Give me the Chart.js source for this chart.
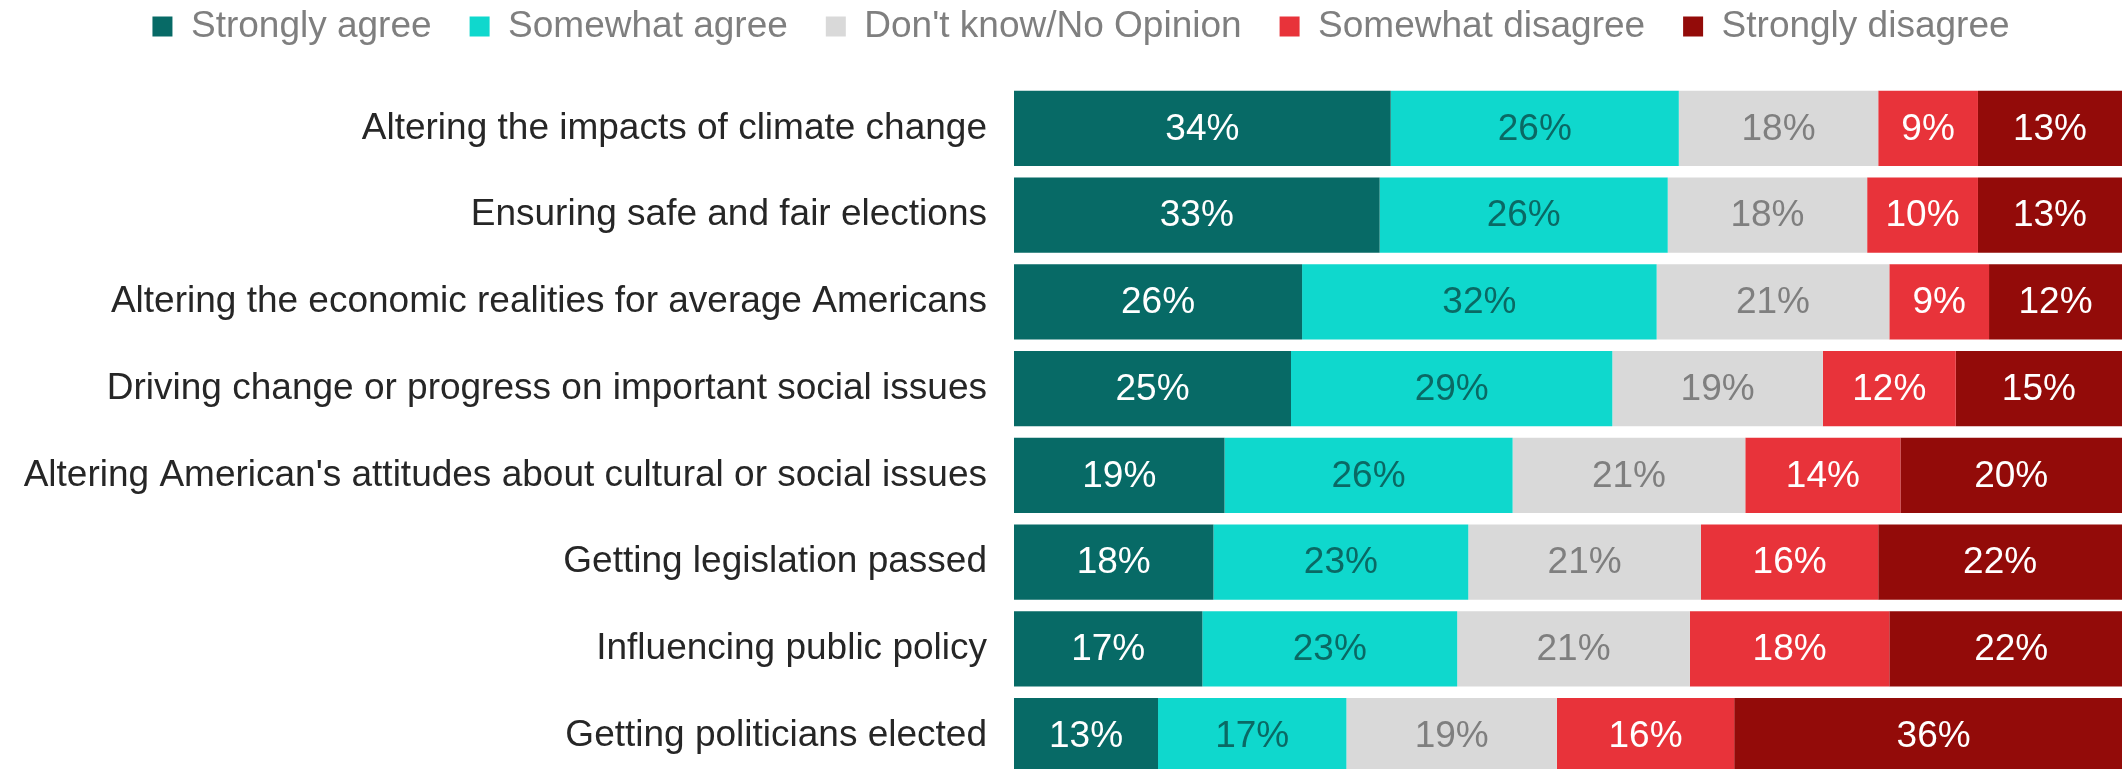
<!DOCTYPE html>
<html lang="en">
<head>
  <meta charset="utf-8">
  <title>Perceived impact of protests</title>
  <script src="https://cdn.jsdelivr.net/npm/chart.js"></script>
</head>

<style>
  html, body {
    margin: 0;
    padding: 0;
    background: #ffffff;
    overflow: hidden;
  }
</style>

<body>
  <canvas id="bar-chart" width="2128" height="779"></canvas>

  <script>
    // categories (top to bottom)
    const issues = [
      "Altering the impacts of climate change",
      "Ensuring safe and fair elections",
      "Altering the economic realities for average Americans",
      "Driving change or progress on important social issues",
      "Altering American's attitudes about cultural or social issues",
      "Getting legislation passed",
      "Influencing public policy",
      "Getting politicians elected"
    ];

    // answer shares in %
    const stronglyAgree    = [34, 33, 26, 25, 19, 18, 17, 13];
    const somewhatAgree    = [26, 26, 32, 29, 26, 23, 23, 17];
    const noOpinion        = [18, 18, 21, 19, 21, 21, 21, 19];
    const somewhatDisagree = [9, 10, 9, 12, 14, 16, 18, 16];
    const stronglyDisagree = [13, 13, 12, 15, 20, 22, 22, 36];

    const FONT = "'Liberation Sans', Arial, sans-serif";

    // draws the % value in the middle of every segment
    const valueLabels = {
      id: 'valueLabels',
      afterDatasetsDraw(chart) {
        const ctx = chart.ctx;
        ctx.save();
        ctx.font = "37px " + FONT;
        ctx.textAlign = 'center';
        ctx.textBaseline = 'middle';
        chart.data.datasets.forEach((ds, i) => {
          const meta = chart.getDatasetMeta(i);
          meta.data.forEach((bar, j) => {
            ctx.fillStyle = ds.labelColor;
            ctx.fillText(ds.data[j] + '%', (bar.x + bar.base) / 2, bar.y + 1);
          });
        });
        ctx.restore();
      }
    };

    // nudge the legend row a little to the right
    const legendShift = {
      id: 'legendShift',
      afterLayout(chart) {
        if (chart.legend) {
          chart.legend.left += 20;
          chart.legend.right += 20;
        }
      }
    };

    var ctx1 = document.getElementById('bar-chart').getContext('2d');
    var chart1 = new Chart(ctx1, {
      type: 'bar',
      data: {
        labels: issues,
        datasets: [
          { label: 'Strongly agree', data: stronglyAgree, backgroundColor: '#076a66', labelColor: '#ffffff' },
          { label: 'Somewhat agree', data: somewhatAgree, backgroundColor: '#0fd8cd', labelColor: '#0a6964' },
          { label: "Don't know/No Opinion", data: noOpinion, backgroundColor: '#d9d9d9', labelColor: '#7f7f7f' },
          { label: 'Somewhat disagree', data: somewhatDisagree, backgroundColor: '#e8333a', labelColor: '#ffffff' },
          { label: 'Strongly disagree', data: stronglyDisagree, backgroundColor: '#930b09', labelColor: '#ffffff' }
        ]
      },
      options: {
        indexAxis: 'y',
        responsive: false,
        animation: false,
        barPercentage: 0.865,
        categoryPercentage: 1,
        layout: {
          padding: { top: -30, right: 6, bottom: 0, left: 0 }
        },
        plugins: {
          tooltip: { enabled: false },
          legend: {
            position: 'top',
            labels: {
              boxWidth: 20,
              boxHeight: 20,
              padding: 38,
              color: '#7f7f7f',
              font: { family: FONT, size: 37 }
            }
          }
        },
        scales: {
          x: {
            stacked: true,
            min: 0,
            max: 100,
            position: 'top',
            grid: { display: false, drawTicks: false },
            border: { display: false },
            ticks: { display: false },
            afterFit: (scale) => { scale.height = 30; }
          },
          y: {
            stacked: true,
            grid: { display: false, drawTicks: false },
            border: { display: false },
            ticks: {
              padding: 27,
              color: '#262626',
              font: { family: FONT, size: 37 }
            },
            afterFit: (scale) => {
              scale.width = 1014;
              scale.paddingTop = 0;
              scale.paddingBottom = 0;
            }
          }
        }
      },
      plugins: [valueLabels, legendShift]
    });
  </script>
</body>

</html>
